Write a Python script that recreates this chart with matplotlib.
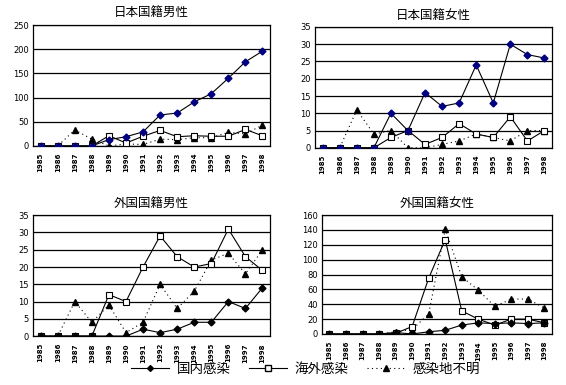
import numpy as np
import matplotlib.pyplot as plt
from matplotlib.lines import Line2D

plt.rcParams['font.family'] = ['Noto Sans CJK JP', 'DejaVu Sans']

years = [str(y) for y in range(1985, 1999)]
labels = ["国内感染", "海外感染", "感染地不明"]

# 日本国籍男性
jm_dom = [0, 0, 0, 0, 13, 19, 29, 64, 68, 91, 108, 140, 174, 196]
jm_abr = [0, 0, 0, 0, 21, 6, 20, 32, 19, 21, 20, 20, 34, 21]
jm_unk = [0, 0, 33, 14, 0, 4, 3, 14, 13, 17, 17, 28, 25, 43]
# 日本国籍女性
jf_dom = [0, 0, 0, 0, 10, 5, 16, 12, 13, 24, 13, 30, 27, 26]
jf_abr = [0, 0, 0, 0, 3, 5, 1, 3, 7, 4, 3, 9, 2, 5]
jf_unk = [0, 0, 11, 4, 5, 0, 0, 1, 2, 4, 3, 2, 5, 5]
# 外国国籍男性
fm_dom = [0, 0, 0, 0, 0, 0, 2, 1, 2, 4, 4, 10, 8, 14]
fm_abr = [0, 0, 0, 0, 12, 10, 20, 29, 23, 20, 21, 31, 23, 19]
fm_unk = [0, 0, 10, 4, 9, 1, 4, 15, 8, 13, 22, 24, 18, 25]
# 外国国籍女性
ff_dom = [0, 0, 0, 0, 2, 0, 3, 5, 12, 15, 14, 15, 14, 15]
ff_abr = [0, 0, 0, 0, 1, 10, 75, 127, 31, 20, 12, 20, 20, 15]
ff_unk = [0, 0, 0, 0, 3, 6, 27, 141, 77, 59, 37, 47, 47, 35]

panels = [
    ("日本国籍男性", jm_dom, jm_abr, jm_unk, 250, 50, [0.0583, 0.621, 0.419, 0.314], "#000080"),
    ("日本国籍女性", jf_dom, jf_abr, jf_unk, 35, 5, [0.5565, 0.616, 0.419, 0.314], "#000080"),
    ("外国国籍男性", fm_dom, fm_abr, fm_unk, 35, 5, [0.0583, 0.127, 0.419, 0.314], "black"),
    ("外国国籍女性", ff_dom, ff_abr, ff_unk, 160, 20, [0.569, 0.1325, 0.406, 0.309], "black"),
]

fig = plt.figure(figsize=(5.66, 3.85), dpi=100)

for title, dom, abr, unk, ymax, step, pos, dcol in panels:
    ax = fig.add_axes(pos)
    x = np.arange(len(years))
    ax.plot(x, unk, color="black", lw=0.8, ls=(0, (1, 3)), marker="^", ms=4.5,
            mfc="black", mec="black", zorder=3)
    ax.plot(x, abr, color="black", lw=0.8, marker="s", ms=4.5,
            mfc="white", mec="black", mew=0.8, zorder=4)
    ax.plot(x, dom, color="black", lw=0.8, marker="D", ms=3.5,
            mfc=dcol, mec=dcol, zorder=5)
    ax.set_xlim(-0.45, len(years) - 0.55)
    ax.set_ylim(0, ymax)
    ax.set_yticks(np.arange(0, ymax + 1, step))
    ax.yaxis.grid(True, color="black", lw=0.9)
    ax.set_axisbelow(True)
    ax.set_xticks(x)
    ax.set_xticklabels(years, rotation=90, fontsize=5, fontweight="bold",
                       family="DejaVu Sans")
    ax.tick_params(axis="y", labelsize=6, length=0, pad=3)
    ax.tick_params(axis="x", length=0, pad=5)
    for lab in ax.get_yticklabels():
        lab.set_family("DejaVu Sans")
    for s in ax.spines.values():
        s.set_linewidth(0.9)
        s.set_color("black")
    ax.set_title(title, fontsize=9, pad=5.5)

handles = [
    Line2D([], [], color="black", lw=0.8, marker="D", ms=3, mfc="black"),
    Line2D([], [], color="black", lw=0.8, marker="s", ms=4, mfc="white"),
    Line2D([], [], color="black", lw=0.8, ls=(0, (1, 3)), marker="^", ms=4, mfc="black"),
]
fig.legend(handles, labels, loc="center", bbox_to_anchor=(0.54, 0.042), ncol=3,
           frameon=False, fontsize=9.7, handlelength=2.8, columnspacing=1.35,
           handletextpad=0.6)

fig.savefig("out.png", dpi=100)
